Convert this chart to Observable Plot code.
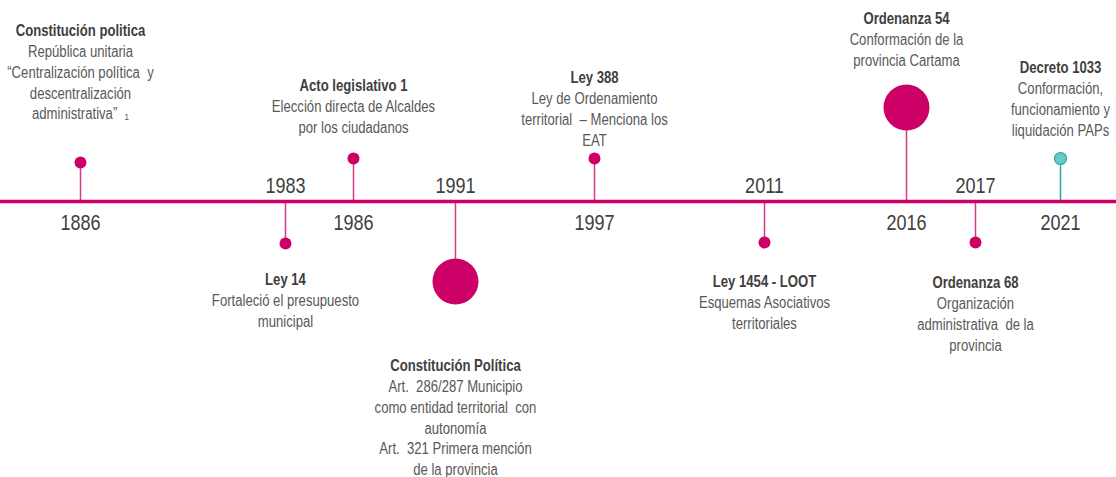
<!DOCTYPE html>
<html>
<head>
<meta charset="utf-8">
<script src="https://cdn.jsdelivr.net/npm/d3@7"></script>
<script src="https://cdn.jsdelivr.net/npm/@observablehq/plot@0.6"></script>
<style>
  html, body { margin: 0; padding: 0; background: #fff; }
</style>
</head>
<body>
<div id="chart"></div>
<script>
// ---- data ----
const years = [1886, 1983, 1986, 1991, 1997, 2011, 2016, 2017, 2021];
// stem length (px-like units, + above the axis line, - below)
const stems = [39, -42, 43, -80, 43, -41, 94, -41, 43];
// level of the top of each label block (same units)
const labelLevels = [180, -69, 125, -155, 133, -71, 192, -72, 143];
const emphasis = ["normal", "normal", "normal", "alta", "normal", "normal", "alta", "normal", "normal"];
const kinds = ["histórico", "histórico", "histórico", "histórico", "histórico", "histórico", "histórico", "histórico", "reciente"];
const titles = [
  "Constitución politica",
  "Ley 14",
  "Acto legislativo 1",
  "Constitución Política",
  "Ley 388",
  "Ley 1454 - LOOT",
  "Ordenanza 54",
  "Ordenanza 68",
  "Decreto 1033"
];
const descriptions = [
  "República unitaria\n“Centralización política  y\ndescentralización\nadministrativa”  ₁",
  "Fortaleció el presupuesto\nmunicipal",
  "Elección directa de Alcaldes\npor los ciudadanos",
  "Art.  286/287 Municipio\ncomo entidad territorial  con\nautonomía\nArt.  321 Primera mención\nde la provincia",
  "Ley de Ordenamiento\nterritorial  – Menciona los\nEAT",
  "Esquemas Asociativos\nterritoriales",
  "Conformación de la\nprovincia Cartama",
  "Organización\nadministrativa  de la\nprovincia",
  "Conformación,\nfuncionamiento y\nliquidación PAPs"
];
// timeline positions are not proportional to years in the original: piecewise scale
const xRange = [80, 285, 353, 455, 594, 764, 906, 975, 1060];

const data = years.map((year, i) => ({
  year,
  stem: stems[i],
  label: labelLevels[i],
  emphasis: emphasis[i],
  kind: kinds[i],
  title: titles[i],
  desc: descriptions[i],
  base: 0
}));

const MAGENTA = "#cc0066";
const STEM = "#d63a85";
const TEAL = "#6ec8c8";
const TEAL_DARK = "#2ea6a6";

const above = data.filter(d => d.stem > 0);
const below = data.filter(d => d.stem < 0);

const chart = Plot.plot({
  width: 1116,
  height: 477,
  margin: 0,
  style: {
    fontFamily: "'Liberation Sans', Arial, sans-serif",
    background: "#fff",
    overflow: "visible"
  },
  x: { type: "linear", domain: years, range: xRange, axis: null },
  y: { domain: [-276, 201], axis: null },
  marks: [
    // stems
    Plot.ruleX(data, {
      x: "year", y1: "base", y2: "stem",
      stroke: d => d.kind === "reciente" ? TEAL_DARK : STEM,
      strokeWidth: 1.5
    }),
    // main axis line
    Plot.ruleY([0], { stroke: MAGENTA, strokeWidth: 3.5 }),
    // dots
    Plot.dot(data.filter(d => d.kind === "histórico" && d.emphasis === "normal"),
      { x: "year", y: "stem", r: 6, fill: MAGENTA }),
    Plot.dot(data.filter(d => d.emphasis === "alta"),
      { x: "year", y: "stem", r: 23, fill: MAGENTA }),
    Plot.dot(data.filter(d => d.kind === "reciente"),
      { x: "year", y: "stem", r: 6, fill: TEAL, stroke: TEAL_DARK, strokeWidth: 1.2 }),
    // year labels
    Plot.text(below, {
      x: "year", y: "base", text: d => String(d.year),
      dy: -16, fontSize: 22, fill: "#404040"
    }),
    Plot.text(above, {
      x: "year", y: "base", text: d => String(d.year),
      dy: 21, fontSize: 22, fill: "#404040"
    }),
    // titles
    Plot.text(data, {
      x: "year", y: "label", text: "title", lineAnchor: "top",
      fontSize: 16, fontWeight: "bold", fill: "#404040", lineHeight: 1.3
    }),
    // descriptions
    Plot.text(data, {
      x: "year", y: "label", text: d => "\n" + d.desc, lineAnchor: "top",
      fontSize: 16, fill: "#595959", lineHeight: 1.3
    })
  ]
});

// condensed look of the original typeface (no narrow font installed)
d3.select(chart).selectAll("text").each(function () {
  const t = this.getAttribute("transform") || "";
  this.setAttribute("transform", t + " scale(0.82,1)");
});

document.getElementById("chart").appendChild(chart);
</script>
</body>
</html>
